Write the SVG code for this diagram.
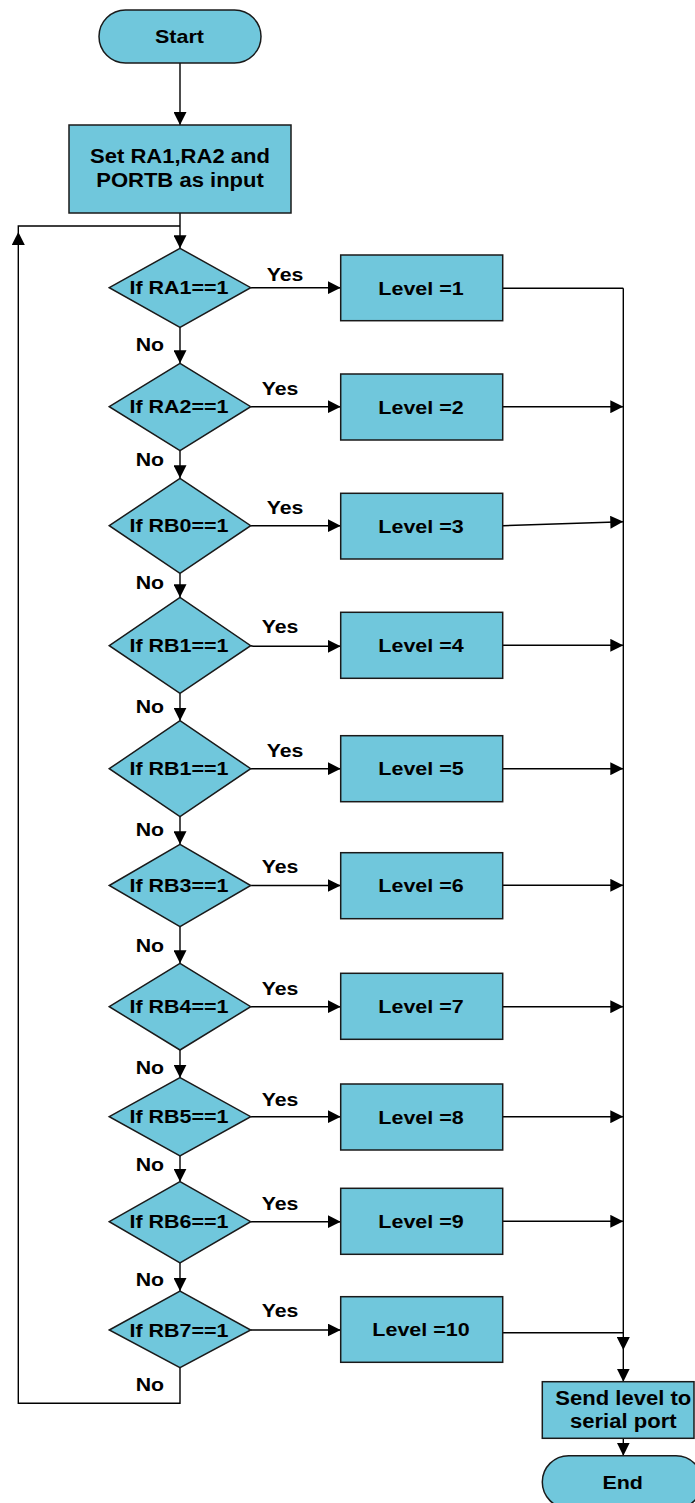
<svg xmlns="http://www.w3.org/2000/svg" width="695" height="1503" viewBox="0 0 695 1503">
  <style>
    .shape { fill: #70C7DC; stroke: #1a1a1a; stroke-width: 1.5; }
    .wire { fill: none; stroke: #000; stroke-width: 1.4; }
    .arrow { fill: none; stroke: #000; stroke-width: 1.4; marker-end: url(#head); }
    text { font-family: "Liberation Sans", Arial, sans-serif; font-weight: bold; fill: #000; }
    .t { font-size: 19px; text-anchor: middle; }
    .tb { font-size: 19.5px; text-anchor: middle; }
    .lbl { font-size: 19px; text-anchor: start; }
  </style>
  <defs>
    <marker id="head" viewBox="0 0 13 13" refX="13" refY="6.5" markerWidth="13" markerHeight="13" markerUnits="userSpaceOnUse" orient="auto">
      <path d="M0,0 L13,6.5 L0,13 z" fill="#000"/>
    </marker>
  </defs>
  <rect width="695" height="1503" fill="#fff"/>

  <!-- connectors -->
  <g id="connectors">
    <line class="arrow" x1="180" y1="63" x2="180" y2="125"/>
    <line class="arrow" x1="180" y1="213" x2="180" y2="248.3"/>
    <!-- loop back from the last test -->
    <polyline class="arrow" points="180,1367.7 180,1403.3 18.3,1403.3 18.3,232"/>
    <polyline class="wire" points="18.3,232 18.3,226 180,226"/>

    <!-- No branches -->
    <line class="arrow" x1="180" y1="327.3" x2="180" y2="363.3"/>
    <line class="arrow" x1="180" y1="450.7" x2="180" y2="478.3"/>
    <line class="arrow" x1="180" y1="573.3" x2="180" y2="597.3"/>
    <line class="arrow" x1="180" y1="693.3" x2="180" y2="720.7"/>
    <line class="arrow" x1="180" y1="816.7" x2="180" y2="844.3"/>
    <line class="arrow" x1="180" y1="926.7" x2="180" y2="963.3"/>
    <line class="arrow" x1="180" y1="1050" x2="180" y2="1077.7"/>
    <line class="arrow" x1="180" y1="1156" x2="180" y2="1181.7"/>
    <line class="arrow" x1="180" y1="1263" x2="180" y2="1291"/>

    <!-- Yes branches -->
    <line class="arrow" x1="250.7" y1="287.7" x2="340.7" y2="287.7"/>
    <line class="arrow" x1="250.7" y1="406.7" x2="340.7" y2="406.7"/>
    <line class="arrow" x1="250.7" y1="525.7" x2="340.7" y2="525.7"/>
    <polyline class="arrow" points="250.7,645.7 253.3,646.3 340.7,646.3"/>
    <line class="arrow" x1="250.7" y1="768.7" x2="340.7" y2="768.7"/>
    <line class="arrow" x1="250.7" y1="885.5" x2="340.7" y2="885.5"/>
    <line class="arrow" x1="250.7" y1="1006.7" x2="340.7" y2="1006.7"/>
    <line class="arrow" x1="250.7" y1="1116.7" x2="340.7" y2="1116.7"/>
    <line class="arrow" x1="250.7" y1="1221.7" x2="340.7" y2="1221.7"/>
    <line class="arrow" x1="250.7" y1="1330" x2="340.7" y2="1330"/>

    <!-- collector on the right -->
    <polyline class="wire" points="502.7,288.3 623.3,288.3"/>
    <line class="arrow" x1="623.3" y1="288.3" x2="623.3" y2="1350"/>
    <line class="arrow" x1="623.3" y1="1350" x2="623.3" y2="1381.7"/>
    <line class="arrow" x1="502.7" y1="406.7" x2="623.3" y2="406.7"/>
    <line class="arrow" x1="502.7" y1="525.7" x2="623.3" y2="521.7"/>
    <line class="arrow" x1="502.7" y1="645.3" x2="623.3" y2="645.3"/>
    <line class="arrow" x1="502.7" y1="768.7" x2="623.3" y2="768.7"/>
    <line class="arrow" x1="502.7" y1="885.3" x2="623.3" y2="885.3"/>
    <line class="arrow" x1="502.7" y1="1006.7" x2="623.3" y2="1006.7"/>
    <line class="arrow" x1="502.7" y1="1116.7" x2="623.3" y2="1116.7"/>
    <line class="arrow" x1="502.7" y1="1221.3" x2="623.3" y2="1221.3"/>
    <line class="wire" x1="502.7" y1="1332.7" x2="623.3" y2="1332.7"/>
    <line class="arrow" x1="623.3" y1="1438.3" x2="623.3" y2="1455.7"/>

    <!-- branch labels -->
    <text class="lbl" transform="translate(266.7,280.7) scale(1.12,1)">Yes</text>
    <text class="lbl" transform="translate(261.7,395) scale(1.12,1)">Yes</text>
    <text class="lbl" transform="translate(266.7,514) scale(1.12,1)">Yes</text>
    <text class="lbl" transform="translate(261.7,633) scale(1.12,1)">Yes</text>
    <text class="lbl" transform="translate(266.7,756.7) scale(1.12,1)">Yes</text>
    <text class="lbl" transform="translate(261.7,873.3) scale(1.12,1)">Yes</text>
    <text class="lbl" transform="translate(261.7,995) scale(1.12,1)">Yes</text>
    <text class="lbl" transform="translate(261.7,1105.7) scale(1.12,1)">Yes</text>
    <text class="lbl" transform="translate(261.7,1210) scale(1.12,1)">Yes</text>
    <text class="lbl" transform="translate(261.7,1316.7) scale(1.12,1)">Yes</text>

    <text class="lbl" transform="translate(135.7,350.7) scale(1.12,1)">No</text>
    <text class="lbl" transform="translate(135.7,466) scale(1.12,1)">No</text>
    <text class="lbl" transform="translate(135.7,589) scale(1.12,1)">No</text>
    <text class="lbl" transform="translate(135.7,713.3) scale(1.12,1)">No</text>
    <text class="lbl" transform="translate(135.7,836) scale(1.12,1)">No</text>
    <text class="lbl" transform="translate(135.7,951.7) scale(1.12,1)">No</text>
    <text class="lbl" transform="translate(135.7,1074) scale(1.12,1)">No</text>
    <text class="lbl" transform="translate(135.7,1170.7) scale(1.12,1)">No</text>
    <text class="lbl" transform="translate(135.7,1285.5) scale(1.12,1)">No</text>
    <text class="lbl" transform="translate(135.7,1391) scale(1.12,1)">No</text>
  </g>

  <!-- terminals and setup -->
  <g id="start">
    <rect class="shape" x="99" y="10" width="162" height="53" rx="26.5"/>
    <text class="t" transform="translate(179.5,43.3) scale(1.13,1)">Start</text>
  </g>
  <g id="setup">
    <rect class="shape" x="69" y="125" width="222" height="88"/>
    <text class="tb" transform="translate(180,163.3) scale(1.13,1)">Set RA1,RA2 and</text>
    <text class="tb" transform="translate(180,186.7) scale(1.13,1)">PORTB as input</text>
  </g>

  <!-- decisions -->
  <g id="test-ra1">
    <polygon class="shape" points="109.3,287.7 180,248.3 250.7,287.7 180,327.3"/>
    <text class="t" transform="translate(179,294.4) scale(1.13,1)">If RA1==1</text>
  </g>
  <g id="test-ra2">
    <polygon class="shape" points="109.3,406.7 180,363.3 250.7,406.7 180,450.7"/>
    <text class="t" transform="translate(179,413.4) scale(1.13,1)">If RA2==1</text>
  </g>
  <g id="test-rb0">
    <polygon class="shape" points="109.3,525.7 180,478.3 250.7,525.7 180,573.3"/>
    <text class="t" transform="translate(179,532.4) scale(1.13,1)">If RB0==1</text>
  </g>
  <g id="test-rb1-a">
    <polygon class="shape" points="109.3,645.7 180,597.3 250.7,645.7 180,693.3"/>
    <text class="t" transform="translate(179,652.4) scale(1.13,1)">If RB1==1</text>
  </g>
  <g id="test-rb1-b">
    <polygon class="shape" points="109.3,768.7 180,720.7 250.7,768.7 180,816.7"/>
    <text class="t" transform="translate(179,775.4) scale(1.13,1)">If RB1==1</text>
  </g>
  <g id="test-rb3">
    <polygon class="shape" points="109.3,885.5 180,844.3 250.7,885.5 180,926.7"/>
    <text class="t" transform="translate(179,892.2) scale(1.13,1)">If RB3==1</text>
  </g>
  <g id="test-rb4">
    <polygon class="shape" points="109.3,1006.7 180,963.3 250.7,1006.7 180,1050"/>
    <text class="t" transform="translate(179,1013.4) scale(1.13,1)">If RB4==1</text>
  </g>
  <g id="test-rb5">
    <polygon class="shape" points="109.3,1116.7 180,1077.7 250.7,1116.7 180,1156"/>
    <text class="t" transform="translate(179,1123.4) scale(1.13,1)">If RB5==1</text>
  </g>
  <g id="test-rb6">
    <polygon class="shape" points="109.3,1221.7 180,1181.7 250.7,1221.7 180,1263"/>
    <text class="t" transform="translate(179,1228.4) scale(1.13,1)">If RB6==1</text>
  </g>
  <g id="test-rb7">
    <polygon class="shape" points="109.3,1330 180,1291 250.7,1330 180,1367.7"/>
    <text class="t" transform="translate(179,1336.7) scale(1.13,1)">If RB7==1</text>
  </g>

  <!-- level assignments -->
  <g id="level-1">
    <rect class="shape" x="340.7" y="255" width="162" height="65.7"/>
    <text class="t" transform="translate(421,294.5) scale(1.13,1)">Level =1</text>
  </g>
  <g id="level-2">
    <rect class="shape" x="340.7" y="374" width="162" height="66"/>
    <text class="t" transform="translate(421,413.7) scale(1.13,1)">Level =2</text>
  </g>
  <g id="level-3">
    <rect class="shape" x="340.7" y="493.3" width="162" height="65.7"/>
    <text class="t" transform="translate(421,532.8) scale(1.13,1)">Level =3</text>
  </g>
  <g id="level-4">
    <rect class="shape" x="340.7" y="612.3" width="162" height="66"/>
    <text class="t" transform="translate(421,652) scale(1.13,1)">Level =4</text>
  </g>
  <g id="level-5">
    <rect class="shape" x="340.7" y="735.7" width="162" height="66"/>
    <text class="t" transform="translate(421,775.4) scale(1.13,1)">Level =5</text>
  </g>
  <g id="level-6">
    <rect class="shape" x="340.7" y="852.7" width="162" height="66"/>
    <text class="t" transform="translate(421,892.4) scale(1.13,1)">Level =6</text>
  </g>
  <g id="level-7">
    <rect class="shape" x="340.7" y="973.3" width="162" height="66"/>
    <text class="t" transform="translate(421,1013) scale(1.13,1)">Level =7</text>
  </g>
  <g id="level-8">
    <rect class="shape" x="340.7" y="1084" width="162" height="66"/>
    <text class="t" transform="translate(421,1123.7) scale(1.13,1)">Level =8</text>
  </g>
  <g id="level-9">
    <rect class="shape" x="340.7" y="1188.3" width="162" height="66"/>
    <text class="t" transform="translate(421,1228) scale(1.13,1)">Level =9</text>
  </g>
  <g id="level-10">
    <rect class="shape" x="340.7" y="1296.7" width="162" height="65.6"/>
    <text class="t" transform="translate(421,1336.2) scale(1.13,1)">Level =10</text>
  </g>

  <!-- output and end -->
  <g id="send">
    <rect class="shape" x="542.3" y="1381.7" width="151.7" height="56.6"/>
    <text class="tb" transform="translate(623.3,1405) scale(1.13,1)">Send level to</text>
    <text class="tb" transform="translate(623.3,1428.3) scale(1.13,1)">serial port</text>
  </g>
  <g id="end">
    <rect class="shape" x="542.3" y="1455.7" width="160" height="52.6" rx="26.3"/>
    <text class="t" transform="translate(622.7,1489) scale(1.13,1)">End</text>
  </g>
</svg>
